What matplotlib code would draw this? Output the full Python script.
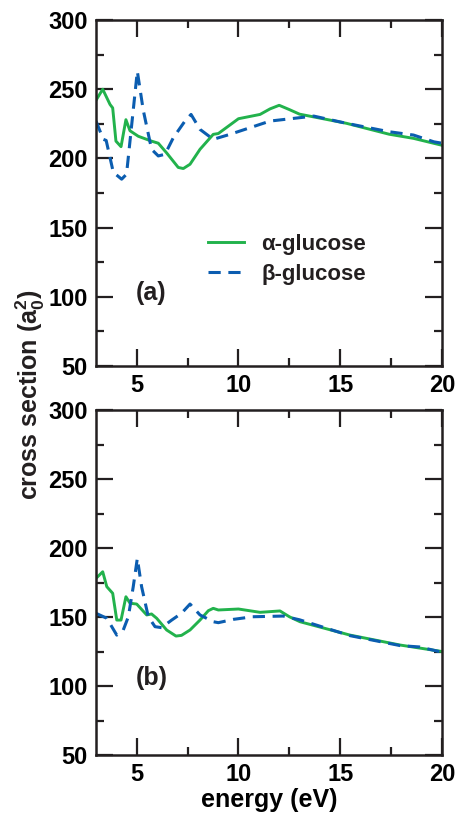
import matplotlib
matplotlib.use('Agg')
from matplotlib import pyplot as plt
from matplotlib.ticker import MultipleLocator

# panel (a)
energy_a_alpha = [3.0, 3.33, 3.69, 3.82, 3.98, 4.23, 4.47, 4.67, 5.08, 5.73, 6.06, 6.47, 7.04, 7.29,
                  7.62, 8.11, 8.76, 9.01, 10.0, 11.06, 11.55, 12.0, 12.5, 13.0, 13.7, 15.3, 17.4, 18.6, 20.0]
cs_a_alpha = [242, 250, 239, 236.5, 212.5, 208.5, 228, 220, 216, 212.5, 211, 204, 193.5, 192.7,
              195.8, 206.6, 217.4, 218, 228.7, 231.8, 235.8, 238.4, 235.3, 232, 230, 225.4, 217.5, 214.5, 209.5]
energy_a_beta = [3.0, 3.36, 3.5, 3.85, 4.26, 4.5, 4.83, 5.03, 5.32, 5.73, 6.06, 6.39, 6.8, 7.37,
                 7.67, 8.11, 8.76, 9.58, 11.55, 12.5, 13.7, 15.3, 17.4, 18.6, 19.6, 20.0]
cs_a_beta = [227, 213.8, 213, 190, 185, 188.6, 235, 263, 235, 206.6, 201.8, 203, 215, 227,
             231.8, 221, 213.8, 217.4, 227, 228.6, 230.6, 225.4, 219.3, 216.9, 212, 211]

# panel (b)
energy_b_alpha = [3.0, 3.33, 3.53, 3.82, 4.02, 4.23, 4.47, 4.67, 5.0, 5.49, 5.73, 5.98, 6.47, 6.93,
                  7.2, 7.62, 8.11, 8.52, 8.76, 9.01, 10.0, 11.06, 12.04, 12.5, 13.02, 15.48, 17.94, 20.0]
cs_b_alpha = [178.0, 182.8, 172.0, 167.2, 147.8, 147.8, 164.7, 160.0, 159.4, 151.5, 152.2, 149.1, 140.6, 136.2,
              136.7, 140.6, 147.8, 154.6, 156.3, 155.1, 155.8, 153.4, 154.4, 150.2, 146.6, 136.9, 129.7, 125.0]
energy_b_beta = [3.0, 3.53, 4.02, 4.34, 4.59, 4.83, 5.03, 5.24, 5.57, 5.9, 6.22, 6.72, 7.2, 7.62,
                 8.11, 8.76, 9.01, 9.75, 10.7, 12.2, 13.0, 15.48, 17.94, 18.9, 20.0]
cs_b_beta = [152.7, 149.1, 136.9, 140.6, 150.2, 172.0, 192.5, 172.0, 150.2, 143.0, 142.3, 147.8, 152.7, 159.4,
             151.5, 146.6, 145.9, 148.3, 150.2, 150.7, 148.0, 136.5, 129.3, 128.3, 124.5]

green = '#22b24c'
blue = '#0b5db0'

plt.rcParams['font.family'] = ['Liberation Sans', 'DejaVu Sans']
plt.rcParams['font.weight'] = 'bold'
plt.rcParams['mathtext.fontset'] = 'custom'
plt.rcParams['mathtext.bf'] = 'Liberation Sans:bold'
plt.rcParams['mathtext.rm'] = 'Liberation Sans:bold'
plt.rcParams['text.color'] = '#231f20'

fig = plt.figure(figsize=(4.58, 8.15), dpi=100)
ax1 = fig.add_axes([0.2096, 0.5509, 0.7555, 0.4245])
ax2 = fig.add_axes([0.2096, 0.0736, 0.7555, 0.4233])

ax1.plot(energy_a_alpha, cs_a_alpha, color=green, lw=2.1, label='α-glucose')
ax1.plot(energy_a_beta, cs_a_beta, color=blue, lw=2.2, dashes=(4, 2.5), label='β-glucose')
ax2.plot(energy_b_alpha, cs_b_alpha, color=green, lw=2.1)
ax2.plot(energy_b_beta, cs_b_beta, color=blue, lw=2.2, dashes=(4, 2.5))

for ax in (ax1, ax2):
    ax.set_xlim(3, 20)
    ax.set_ylim(50, 300)
    ax.xaxis.set_major_locator(MultipleLocator(5))
    ax.xaxis.set_minor_locator(MultipleLocator(2.5))
    ax.yaxis.set_major_locator(MultipleLocator(50))
    ax.yaxis.set_minor_locator(MultipleLocator(25))
    ax.tick_params(which='both', direction='in', top=True, right=True, width=1.6, color='#231f20')
    ax.tick_params(which='major', length=12, labelsize=17)
    ax.tick_params(which='minor', length=6)
    ax.tick_params(axis='y', pad=6)
    ax.tick_params(axis='x', pad=6)
    for s in ax.spines.values():
        s.set_linewidth(1.8)
        s.set_color('#231f20')
    for lab in ax.get_xticklabels() + ax.get_yticklabels():
        lab.set_fontweight('bold')

ax1.text(0.16, 0.211, '(a)', transform=ax1.transAxes, fontsize=18, fontweight='bold', ha='center', va='center')
ax2.text(0.16, 0.223, '(b)', transform=ax2.transAxes, fontsize=18, fontweight='bold', ha='center', va='center')

ax1.legend(loc='center left', bbox_to_anchor=(0.324, 0.308), frameon=False,
           handlelength=1.6, handletextpad=0.8, labelspacing=0.4, borderpad=0, borderaxespad=0,
           prop={'weight': 'bold', 'size': 16})

ax2.set_xlabel('energy (eV)', fontsize=18, fontweight='bold', labelpad=1)
fig.text(0.066, 0.515, r'cross section (a$_\mathbf{0}^\mathbf{2}$)', rotation=90, fontsize=18,
         fontweight='bold', ha='center', va='center')

fig.savefig('out.png', dpi=100)
